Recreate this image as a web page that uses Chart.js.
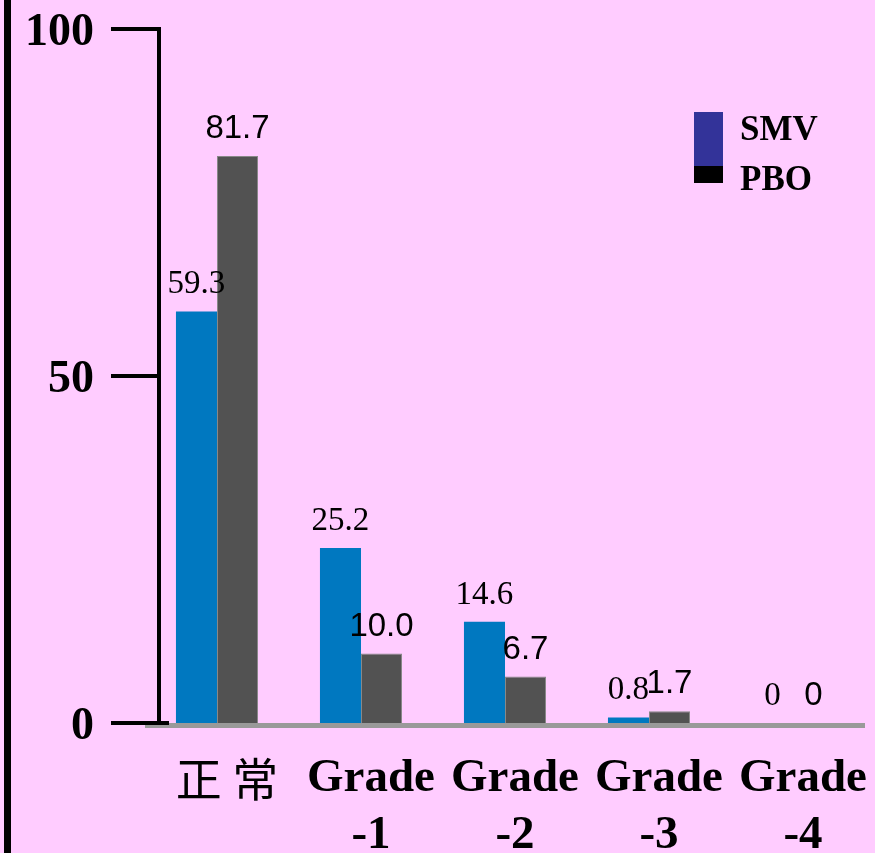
<!DOCTYPE html>
<html>
<head>
<meta charset="utf-8">
<script src="https://cdn.jsdelivr.net/npm/chart.js@4/dist/chart.umd.min.js"></script>
<style>
  html, body { margin: 0; padding: 0; background: #FFCCFF; overflow: hidden; }
  canvas { display: block; }
</style>
</head>
<body>
<canvas id="chart" width="875" height="853"></canvas>
<script>
const categories = [['正 常'], ['Grade', '-1'], ['Grade', '-2'], ['Grade', '-3'], ['Grade', '-4']];
const smvValues = [59.3, 25.2, 14.6, 0.8, 0];
const pboValues = [81.7, 10.0, 6.7, 1.7, 0];
const smvLabels = ['59.3', '25.2', '14.6', '0.8', '0'];
const pboLabels = ['81.7', '10.0', '6.7', '1.7', '0'];
const yTicks = [0, 50, 100];

const legendColors = ['#333399', '#000000'];

const decorPlugin = {
  id: 'decor',
  beforeDraw(chart) {
    const { ctx, width, height } = chart;
    ctx.save();
    ctx.fillStyle = '#FFCCFF';
    ctx.fillRect(0, 0, width, height);
    ctx.fillStyle = '#000';
    ctx.fillRect(4, 0, 7, height);
    ctx.restore();
  },
  afterDatasetsDraw(chart) {
    const { ctx, chartArea } = chart;
    const y = chart.scales.y;
    const zero = y.getPixelForValue(0);
    ctx.save();

    // baseline
    ctx.fillStyle = '#999999';
    ctx.fillRect(chartArea.left, zero, chartArea.right - chartArea.left, 5);

    // y axis with ticks
    const axisX = chartArea.left + 12;
    ctx.fillStyle = '#000';
    ctx.fillRect(axisX, y.getPixelForValue(100) - 2, 4, zero - y.getPixelForValue(100) + 4);
    ctx.font = 'bold 46px "Liberation Serif"';
    ctx.textAlign = 'right';
    ctx.textBaseline = 'middle';
    yTicks.forEach(v => {
      const py = y.getPixelForValue(v);
      ctx.fillRect(axisX - 46, py - 2, v === 0 ? 58 : 48, 4);
      ctx.fillText(String(v), axisX - 63, py + 4);
    });

    // value labels
    const fonts = ['33px "Liberation Serif"', '33px "Liberation Sans"'];
    const texts = [smvLabels, pboLabels];
    ctx.textAlign = 'center';
    ctx.textBaseline = 'alphabetic';
    chart.data.datasets.forEach((ds, di) => {
      ctx.font = fonts[di];
      chart.getDatasetMeta(di).data.forEach((bar, i) => {
        ctx.fillText(texts[di][i], bar.x, bar.y - 18);
      });
    });

    // legend
    ctx.fillStyle = legendColors[0];
    ctx.fillRect(694, 112, 29, 54);
    ctx.fillStyle = legendColors[1];
    ctx.fillRect(694, 166, 29, 17);
    ctx.fillStyle = '#000';
    ctx.font = 'bold 35px "Liberation Serif"';
    ctx.textAlign = 'left';
    ctx.fillText(chart.data.datasets[0].label, 740, 140);
    ctx.fillText(chart.data.datasets[1].label, 740, 190);
    ctx.restore();
  }
};

new Chart(document.getElementById('chart'), {
  type: 'bar',
  data: {
    labels: categories,
    datasets: [{
      label: 'SMV',
      data: smvValues,
      backgroundColor: '#0078C0',
      barPercentage: 1,
      categoryPercentage: 0.57
    }, {
      label: 'PBO',
      data: pboValues,
      backgroundColor: '#525252',
      borderColor: '#888888',
      borderWidth: 1,
      barPercentage: 1,
      categoryPercentage: 0.57
    }]
  },
  options: {
    responsive: false,
    animation: false,
    layout: { padding: { left: 145, right: 10, top: 29, bottom: 0 } },
    plugins: {
      legend: { display: false },
      tooltip: { enabled: false }
    },
    scales: {
      y: {
        display: false,
        min: 0,
        max: 100
      },
      x: {
        grid: { display: false, drawTicks: true, tickLength: 28 },
        border: { display: false },
        afterFit(scale) { scale.height = 130; },
        ticks: {
          autoSkip: false,
          maxRotation: 0,
          padding: 0,
          labelOffset: 10,
          color: '#000',
          font: c => c.index === 0
            ? { family: '"Noto Sans CJK SC"', size: 46, weight: 'normal', lineHeight: 1.2 }
            : { family: '"Liberation Serif"', size: 47, weight: 'bold', lineHeight: 1.2 }
        }
      }
    }
  },
  plugins: [decorPlugin]
});
</script>
</body>
</html>
